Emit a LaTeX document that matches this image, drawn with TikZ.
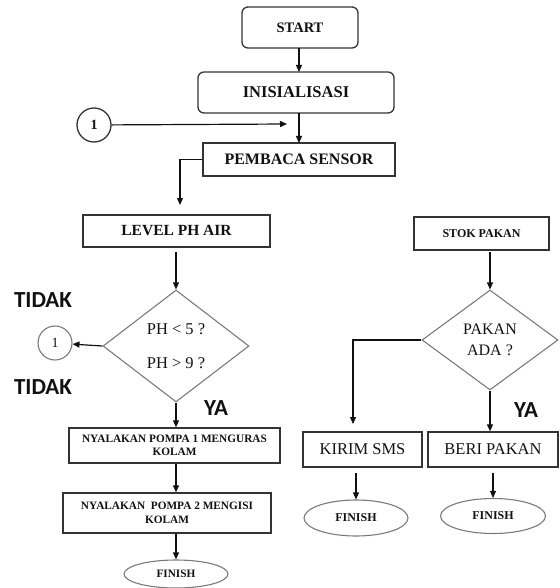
\documentclass[tikz,border=0pt]{standalone}
\usepackage{fontspec}
\setmainfont{Liberation Serif}
\newfontfamily\labfont{Carlito}
\usetikzlibrary{shapes.geometric,arrows.meta}
\definecolor{boxline}{HTML}{333333}
\definecolor{grayline}{HTML}{7A7A7A}
\definecolor{txt}{HTML}{111111}
\tikzset{
  base/.style={draw=boxline,line width=1.3pt,text=txt,inner sep=0pt,align=center},
  rbox/.style={base,rectangle,rounded corners=6pt},
  pbox/.style={base,rectangle},
  dbox/.style={base,diamond,draw=grayline,line width=1.1pt},
  ebox/.style={base,ellipse,draw=grayline,line width=1.1pt},
  cbox/.style={base,circle},
  lab/.style={text=txt,inner sep=0pt,font=\labfont\bfseries\fontsize{23}{23}\selectfont},
  conn/.style={draw=txt,line width=1.2pt},
  arr/.style={conn,-{Triangle[length=7pt,width=6pt]}}
}
\begin{document}
\begin{tikzpicture}[x=1pt,y=-1pt]
\useasboundingbox (0,0) rectangle (559,588);
% left column
\node[rbox,minimum width=116,minimum height=41,font=\bfseries\fontsize{14.5}{16}\selectfont] (start) at (300,27.5) {START};
\node[rbox,minimum width=196,minimum height=41,font=\bfseries\fontsize{16.5}{18}\selectfont] (inis) at (296,92.5) {INISIALISASI};
\node[cbox,minimum size=34,font=\bfseries\fontsize{14}{16}\selectfont] (c1) at (94,125) {1};
\node[pbox,minimum width=192,minimum height=33,font=\bfseries\fontsize{16}{18}\selectfont] (pemb) at (299,159.5) {PEMBACA SENSOR};
\node[pbox,minimum width=187,minimum height=32,font=\bfseries\fontsize{15.5}{18}\selectfont] (level) at (176.5,231) {LEVEL PH AIR};
\node[dbox,minimum width=146,minimum height=112,font=\fontsize{16.5}{34}\selectfont] (ph) at (176,346) {PH {\textless} 5 ?\\PH {\textgreater} 9 ?};
\node[cbox,draw=grayline,line width=1.1pt,minimum size=34,font=\fontsize{14}{16}\selectfont] (c2) at (55,343) {1};
\node[lab] (tidak1) at (43,300) {TIDAK};
\node[lab] (tidak2) at (43,387) {TIDAK};
\node[lab] (ya1) at (216,408) {YA};
\node[pbox,minimum width=211,minimum height=35,font=\bfseries\fontsize{11.3}{12.5}\selectfont] (p1) at (174.5,445.5) {NYALAKAN POMPA 1 MENGURAS\\KOLAM};
\node[pbox,minimum width=208,minimum height=40,font=\bfseries\fontsize{11.3}{14}\selectfont] (p2) at (167,513) {NYALAKAN\ \ POMPA 2 MENGISI\\KOLAM};
\node[ebox,minimum width=104,minimum height=28,font=\bfseries\fontsize{11.3}{13}\selectfont] (fin1) at (176,574) {FINISH};
% right column
\node[pbox,minimum width=135,minimum height=33,font=\bfseries\fontsize{12}{14}\selectfont] (stok) at (481.5,233.5) {STOK PAKAN};
\node[dbox,minimum width=136,minimum height=100,font=\fontsize{16}{21}\selectfont] (pk) at (490,340) {PAKAN\\ADA ?};
\node[pbox,minimum width=119,minimum height=35,font=\fontsize{16.5}{18}\selectfont] (kirim) at (362.5,449.5) {KIRIM SMS};
\node[pbox,minimum width=130,minimum height=35,font=\fontsize{16.5}{18}\selectfont] (beri) at (493,449.5) {BERI PAKAN};
\node[lab] (ya2) at (526,410) {YA};
\node[ebox,minimum width=104,minimum height=36,font=\bfseries\fontsize{12}{14}\selectfont] (fin2) at (356,518) {FINISH};
\node[ebox,minimum width=105,minimum height=35,font=\bfseries\fontsize{12}{14}\selectfont] (fin3) at (493,516) {FINISH};
% helper coordinates
\coordinate (s1) at (299,48);
\coordinate (s2) at (299,72);
\coordinate (s3) at (299,113);
\coordinate (s4) at (299,143);
\coordinate (c1end) at (287,124);
\coordinate (pembturn) at (180,159.5);
\coordinate (levtop) at (180,205);
\coordinate (levbot) at (176,252);
\coordinate (stokbot) at (490,252);
\coordinate (kturn) at (353,340);
\coordinate (ktop) at (353,424);
% connectors
\draw[arr] (s1) -- (s2);
\draw[arr] (s3) -- (s4);
\draw[arr] (c1) -- (c1end);
\draw[arr] (pemb.west) -- (pembturn) -- (levtop);
\draw[arr] (levbot) -- (ph.north);
\draw[arr] (ph.west) -- (c2);
\draw[arr] (ph.south) -- (ph.south |- p1.north);
\draw[arr] (ph.south |- p1.south) -- (ph.south |- p2.north);
\draw[arr] (ph.south |- p2.south) -- (fin1.north);
\draw[arr] (stokbot) -- (pk.north);
\draw[arr] (pk.west) -- (kturn) -- (ktop);
\draw[arr] (pk.south) -- (pk.south |- beri.north);
\draw[arr] ([yshift=-5]fin2.north |- kirim.south) -- (fin2.north);
\draw[arr] ([yshift=-5]fin3.north |- beri.south) -- (fin3.north);
\end{tikzpicture}
\end{document}
